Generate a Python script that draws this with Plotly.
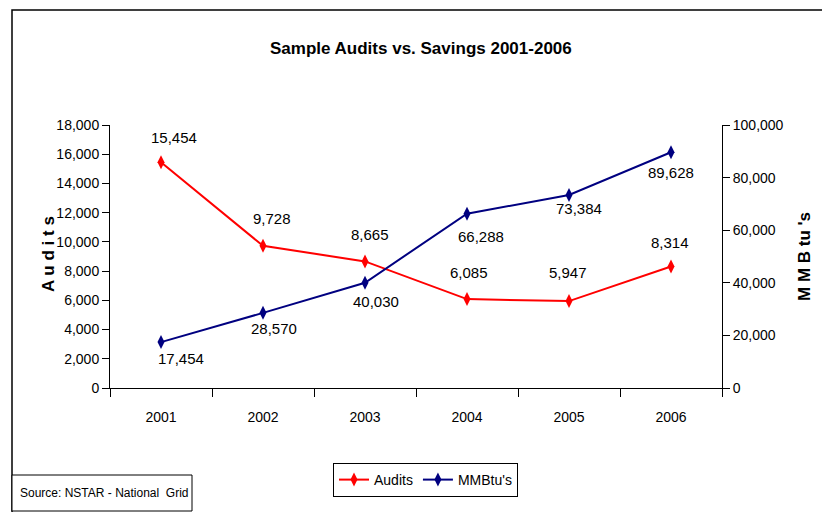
import plotly.graph_objects as go

years = ["2001", "2002", "2003", "2004", "2005", "2006"]
audits = [15454, 9728, 8665, 6085, 5947, 8314]
mmbtus = [17454, 28570, 40030, 66288, 73384, 89628]
left_ticks = [0, 2000, 4000, 6000, 8000, 10000, 12000, 14000, 16000, 18000]
right_ticks = [0, 20000, 40000, 60000, 80000, 100000]

FONT = "Liberation Sans, Arial, sans-serif"
RED = "#ff0000"
NAVY = "#000080"

# label offsets (pixels) - style only
audit_dx = [13, 9, 5, 2, -1, -1]
audit_dy = [25, 27, 27, 27, 29, 24]
mmb_dx = [20, 11, 11, 14, 10, 0]
mmb_dy = [-16, -16, -19, -23, -13, -20]

fig = go.Figure()
fig.add_trace(go.Scatter(
    x=years, y=audits, name="Audits", mode="lines+markers",
    line=dict(color=RED, width=2),
    marker=dict(symbol="diamond-tall", size=10, color=RED),
    yaxis="y"))
fig.add_trace(go.Scatter(
    x=years, y=mmbtus, name="MMBtu's", mode="lines+markers",
    line=dict(color=NAVY, width=2),
    marker=dict(symbol="diamond-tall", size=10, color=NAVY),
    yaxis="y2"))

annotations = []
for i, v in enumerate(audits):
    annotations.append(dict(x=i, y=v, xref="x", yref="y", text=f"{v:,}",
                            showarrow=False, xshift=audit_dx[i], yshift=audit_dy[i],
                            xanchor="center", yanchor="middle",
                            font=dict(family=FONT, size=15, color="black")))
for i, v in enumerate(mmbtus):
    annotations.append(dict(x=i, y=v, xref="x", yref="y2", text=f"{v:,}",
                            showarrow=False, xshift=mmb_dx[i], yshift=mmb_dy[i],
                            xanchor="center", yanchor="middle",
                            font=dict(family=FONT, size=15, color="black")))

W, H = 822, 512
L, R, T, B = 110, 722, 125, 388
def px(x):
    return (x - L) / (R - L)
def py(y):
    return (B - y) / (B - T)

annotations += [
    dict(text="<b>Sample Audits vs. Savings 2001-2006</b>", x=px(421), y=py(48),
         xref="paper", yref="paper", showarrow=False, xanchor="center", yanchor="middle",
         font=dict(family=FONT, size=17, color="black")),
    dict(text="<b>A u d i t s</b>", x=px(48), y=py(254), xref="paper", yref="paper",
         showarrow=False, textangle=-90, xanchor="center", yanchor="middle",
         font=dict(family=FONT, size=17, color="black")),
    dict(text="<b>M M B tu 's</b>", x=px(804), y=py(257), xref="paper", yref="paper",
         showarrow=False, textangle=-90, xanchor="center", yanchor="middle",
         font=dict(family=FONT, size=17, color="black")),
    dict(text="Source: NSTAR - National  Grid", x=px(18), y=py(493), xref="paper", yref="paper",
         xanchor="left", yanchor="middle", showarrow=False,
         font=dict(family=FONT, size=12, color="black")),
]

shapes = [
    dict(type="rect", xref="paper", yref="paper", x0=px(12), y0=py(10), x1=px(840), y1=py(530),
         line=dict(color="black", width=1.5), fillcolor="rgba(0,0,0,0)", layer="below"),
    dict(type="rect", xref="paper", yref="paper", x0=px(12), y0=py(475), x1=px(192), y1=py(511),
         line=dict(color="black", width=1), fillcolor="white"),
]

fig.update_layout(
    width=W, height=H,
    margin=dict(l=L, r=W - R, t=T, b=H - B, pad=0),
    paper_bgcolor="white", plot_bgcolor="white",
    font=dict(family=FONT, size=14, color="black"),
    showlegend=True,
    legend=dict(orientation="h", x=px(333), y=py(463), xanchor="left", yanchor="top",
                bordercolor="black", borderwidth=1, bgcolor="white",
                font=dict(family=FONT, size=14, color="black"),
                itemwidth=30, tracegroupgap=0),
    xaxis=dict(type="category", showgrid=False, showline=True, linecolor="black", linewidth=1,
               ticks="outside", ticklen=8, tickcolor="black", tickson="boundaries",
               ticklabelstandoff=16, tickfont=dict(family=FONT, size=14), zeroline=False,
               range=[-0.5, 5.5]),
    yaxis=dict(range=[0, 18000], tickvals=left_ticks, tickformat=",d", showgrid=False,
               showline=True, linecolor="black", linewidth=1, ticks="outside", ticklen=7,
               tickcolor="black", zeroline=False, tickfont=dict(family=FONT, size=14)),
    yaxis2=dict(range=[0, 100000], tickvals=right_ticks, tickformat=",d", overlaying="y",
                side="right", showgrid=False, showline=True, linecolor="black", linewidth=1,
                ticks="outside", ticklen=7, tickcolor="black", zeroline=False,
                tickfont=dict(family=FONT, size=14)),
    annotations=annotations, shapes=shapes,
)

fig.write_html("out.html", config={"displayModeBar": False},
               post_script="document.body.style.margin='0';document.body.style.overflow='hidden';")
